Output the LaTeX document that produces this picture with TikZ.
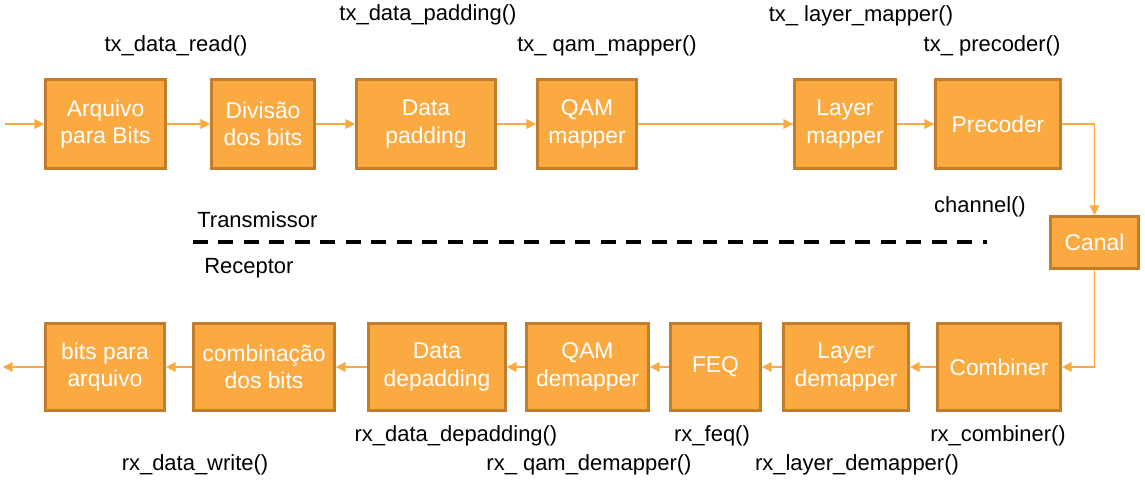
\documentclass[tikz,border=0pt]{standalone}
\usepackage{fontspec}
\setmainfont{Liberation Sans}
\usetikzlibrary{arrows.meta}
\definecolor{boxfill}{HTML}{FBAA42}
\definecolor{boxline}{HTML}{C27D2C}
\definecolor{wirecol}{HTML}{FBAA42}

\begin{document}
\begin{tikzpicture}[x=0.02cm,y=-0.02cm,
  blk/.style={draw=boxline,fill=boxfill,line width=1.6pt,text=white,align=center,
    minimum height=1.78cm,inner sep=0pt,font=\fontsize{13}{15.5}\selectfont},
  lbl/.style={inner sep=0pt,font=\fontsize{12.5}{15}\selectfont},
  wire/.style={draw=wirecol,line width=0.7pt,-{Triangle[length=5.5pt,width=5.5pt]}}]
\useasboundingbox (0,0) rectangle (1145,490);
% transmissor
\node [blk,minimum width=2.40cm] (arq) at (105.5,124) {Arquivo\\para Bits};
\node [blk,minimum width=2.06cm] (div) at (263,124) {Divisão\\dos bits};
\node [blk,minimum width=2.78cm] (pad) at (426,124) {Data\\padding};
\node [blk,minimum width=1.98cm] (qam) at (587,124) {QAM\\mapper};
\node [blk,minimum width=2.02cm] (lay) at (845,124) {Layer\\mapper};
\node [blk,minimum width=2.50cm] (pre) at (998,124) {Precoder};
\node [blk,minimum width=1.76cm,minimum height=1.04cm] (can) at (1094.5,242.5) {Canal};
% receptor
\node [blk,minimum width=2.38cm,minimum height=1.74cm] (bpa) at (105,367) {bits para\\arquivo};
\node [blk,minimum width=2.82cm,minimum height=1.74cm] (cbb) at (264,367) {combinação\\dos bits};
\node [blk,minimum width=2.74cm,minimum height=1.74cm] (dep) at (437,367) {Data\\depadding};
\node [blk,minimum width=2.44cm,minimum height=1.74cm] (qamd) at (587.5,367) {QAM\\demapper};
\node [blk,minimum width=1.80cm,minimum height=1.74cm] (feq) at (715.5,367) {FEQ};
\node [blk,minimum width=2.50cm,minimum height=1.74cm] (layd) at (846,367) {Layer\\demapper};
\node [blk,minimum width=2.46cm,minimum height=1.74cm] (cmb) at (999,367) {Combiner};
\coordinate (in) at (5,124);
\coordinate (out) at (3,367);
% labels
\node [lbl] (l_read) at (176,46) {tx\_data\_read()};
\node [lbl] (l_pad) at (428,15) {tx\_data\_padding()};
\node [lbl] (l_qam) at (607,46) {tx\_ qam\_mapper()};
\node [lbl] (l_lay) at (861,16) {tx\_ layer\_mapper()};
\node [lbl] (l_pre) at (992,46) {tx\_ precoder()};
\node [lbl] (l_ch) at (980,207) {channel()};
\node [lbl,anchor=west] (l_tx) at (197,220) {Transmissor};
\node [lbl,anchor=west] (l_rx) at (204,268) {Receptor};
\node [lbl] (l_dep) at (456,436) {rx\_data\_depadding()};
\node [lbl] (l_feq) at (712,436) {rx\_feq()};
\node [lbl] (l_cmb) at (998,436) {rx\_combiner()};
\node [lbl] (l_wr) at (195,465) {rx\_data\_write()};
\node [lbl] (l_qamd) at (589,465) {rx\_ qam\_demapper()};
\node [lbl] (l_layd) at (857,465) {rx\_layer\_demapper()};
\draw [line width=2pt,dash pattern=on 8.5pt off 6pt] (193,242) -- (987,242);
% ligacoes
\draw [wire] (in) -- (arq);
\draw [wire] (arq) -- (div);
\draw [wire] (div) -- (pad);
\draw [wire] (pad) -- (qam);
\draw [wire] (qam) -- (lay);
\draw [wire] (lay) -- (pre);
\draw [wire] (pre.east) -| (can.north);
\draw [wire] (can.south) |- (cmb.east);
\draw [wire] (cmb) -- (layd);
\draw [wire] (layd) -- (feq);
\draw [wire] (feq) -- (qamd);
\draw [wire] (qamd) -- (dep);
\draw [wire] (dep) -- (cbb);
\draw [wire] (cbb) -- (bpa);
\draw [wire] (bpa) -- (out);
\end{tikzpicture}
\end{document}
